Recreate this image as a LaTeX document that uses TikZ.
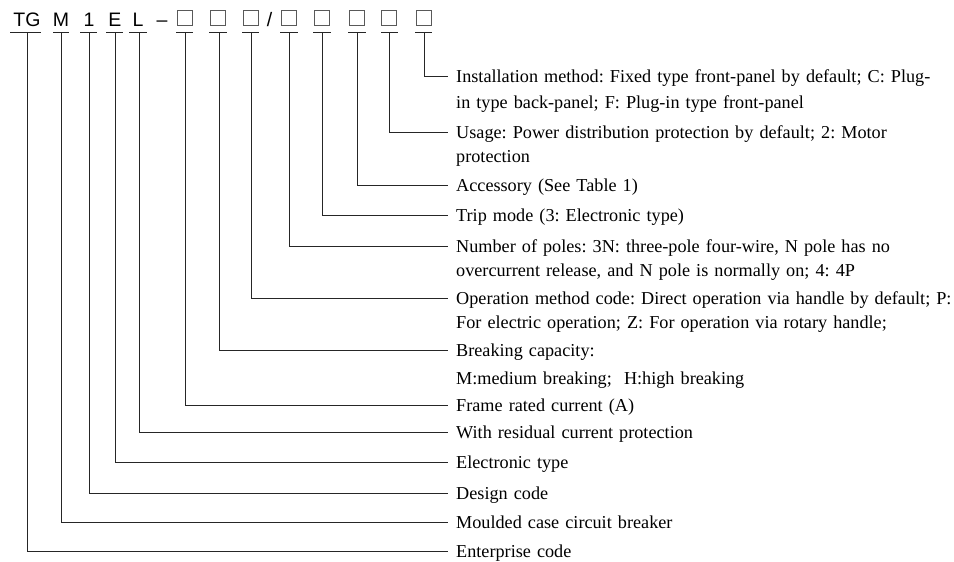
\documentclass[tikz,border=0pt]{standalone}
\usepackage{fontspec}
\setmainfont{Liberation Serif}
\newfontfamily\hdrfont{Liberation Sans}
\usetikzlibrary{calc}
\frenchspacing
\begin{document}
\begin{tikzpicture}[x=1pt,y=-1pt,
  hdr/.style={font=\hdrfont\fontsize{19.5}{22}\selectfont, inner sep=0pt, anchor=base},
  codebox/.style={draw=black!65, line width=0.9pt, minimum size=15pt, inner sep=0pt},
  desc/.style={font=\frenchspacing\fontsize{18.2}{24}\selectfont, inner sep=0pt, anchor=base west, text width=540pt, align=left},
  lead/.style={line width=0.9pt, draw=black!85},
  uline/.style={line width=0.9pt, draw=black!85},
]
\useasboundingbox[fill=white] (0,0) rectangle (954,562);

% header
\node[hdr] (tg) at (27,26) {TG};
\node[hdr] (m) at (61,26) {M};
\node[hdr] (one) at (89,26) {1};
\node[hdr] (e) at (115,26) {E};
\node[hdr] (l) at (138,26) {L};
\node[hdr] (dash) at (162,26) {–};
\node[codebox] (b1) at (185,18) {};
\node[codebox] (b2) at (218,18) {};
\node[codebox] (b3) at (251,18) {};
\node[hdr] (slash) at (269.5,26) {/};
\node[codebox] (b4) at (289,18) {};
\node[codebox] (b5) at (322,18) {};
\node[codebox] (b6) at (357,18) {};
\node[codebox] (b7) at (389,18) {};
\node[codebox] (b8) at (424,18) {};

% underline centres
\coordinate (u1) at (27,32);
\coordinate (u2) at (61,32);
\coordinate (u3) at (89,32);
\coordinate (u4) at (115,32);
\coordinate (u5) at (139,32);
\coordinate (u6) at (185,32);
\coordinate (u7) at (219,32);
\coordinate (u8) at (251,32);
\coordinate (u9) at (289,32);
\coordinate (u10) at (322,32);
\coordinate (u11) at (357,32);
\coordinate (u12) at (389,32);
\coordinate (u13) at (424,32);

\draw[uline] (10,32) -- (41,32);
\draw[uline] (53,32) -- (69,32);
\draw[uline] (80,32) -- (97,32);
\draw[uline] (106,32) -- (123,32);
\draw[uline] (129,32) -- (147,32);
\draw[uline] (176,32) -- (193,32);
\draw[uline] (209,32) -- (227,32);
\draw[uline] (242,32) -- (259,32);
\draw[uline] (280,32) -- (298,32);
\draw[uline] (313,32) -- (331,32);
\draw[uline] (348,32) -- (366,32);
\draw[uline] (381,32) -- (398,32);
\draw[uline] (415,32) -- (432,32);

% descriptions (base = line y + 6)
\node[desc] (d13) at (456,82) {Installation method: Fixed type front-panel by default; C: Plug-\\[2pt]in type back-panel; F: Plug-in type front-panel};
\node[desc] (d12) at (456,138.7) {Usage: Power distribution protection by default; 2: Motor\\protection};
\node[desc] (d11) at (456,191.7) {Accessory (See Table 1)};
\node[desc] (d10) at (456,221) {Trip mode (3: Electronic type)};
\node[desc] (d9) at (456,252) {Number of poles: 3N: three-pole four-wire, N pole has no\\overcurrent release, and N pole is normally on; 4: 4P};
\node[desc] (d8) at (456,304.7) {Operation method code: Direct operation via handle by default; P:\\For electric operation; Z: For operation via rotary handle;};
\node[desc] (d7) at (456,356.7) {Breaking capacity:\\[4pt]M:medium breaking;\ \ H:high breaking};
\node[desc] (d6) at (456,411.7) {Frame rated current (A)};
\node[desc] (d5) at (456,438) {With residual current protection};
\node[desc] (d4) at (456,468) {Electronic type};
\node[desc] (d3) at (456,499.7) {Design code};
\node[desc] (d2) at (456,528) {Moulded case circuit breaker};
\node[desc] (d1) at (456,557) {Enterprise code};

% leaders
\draw[lead] (u1) |- ($(d1.base west)+(-8,-6)$);
\draw[lead] (u2) |- ($(d2.base west)+(-8,-6)$);
\draw[lead] (u3) |- ($(d3.base west)+(-8,-6)$);
\draw[lead] (u4) |- ($(d4.base west)+(-8,-6)$);
\draw[lead] (u5) |- ($(d5.base west)+(-8,-6)$);
\draw[lead] (u6) |- ($(d6.base west)+(-8,-6)$);
\draw[lead] (u7) |- ($(d7.base west)+(-8,-6)$);
\draw[lead] (u8) |- ($(d8.base west)+(-8,-6)$);
\draw[lead] (u9) |- ($(d9.base west)+(-8,-6)$);
\draw[lead] (u10) |- ($(d10.base west)+(-8,-6)$);
\draw[lead] (u11) |- ($(d11.base west)+(-8,-6)$);
\draw[lead] (u12) |- ($(d12.base west)+(-8,-6)$);
\draw[lead] (u13) |- ($(d13.base west)+(-8,-6)$);
\end{tikzpicture}
\end{document}
